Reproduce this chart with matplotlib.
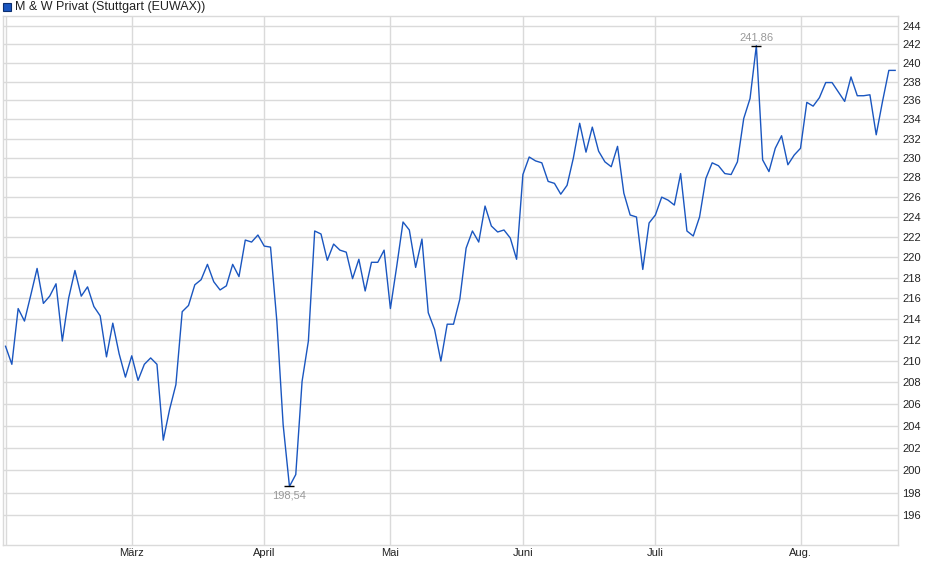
import matplotlib.pyplot as plt
from matplotlib.patches import Rectangle
from matplotlib.ticker import FixedLocator, NullLocator

# closing prices, one per trading day (Feb 3 - Aug 22)
prices = [
    211.4, 209.7, 215.0, 213.8, 216.3, 218.9, 215.5, 216.2, 217.4, 211.9,
    216.0, 218.7, 216.2, 217.1, 215.2, 214.3, 210.4, 213.6, 210.7, 208.5,
    210.5, 208.2, 209.7, 210.3, 209.7, 202.7, 205.5, 207.8, 214.7, 215.3,
    217.3, 217.8, 219.3, 217.6, 216.8, 217.2, 219.3, 218.1, 221.7, 221.5,
    222.2, 221.1, 221.0, 213.8, 204.1, 198.54, 199.6, 208.1, 211.9, 222.6,
    222.3, 219.7, 221.3, 220.7, 220.5, 217.9, 219.8, 216.7, 219.5, 219.5,
    220.7, 215.0, 219.1, 223.5, 222.7, 219.0, 221.8, 214.6, 213.0, 210.0,
    213.5, 213.5, 215.9, 220.9, 222.6, 221.5, 225.1, 223.1, 222.5, 222.7,
    221.9, 219.8, 228.3, 230.1, 229.7, 229.5, 227.6, 227.4, 226.3, 227.2,
    230.0, 233.6, 230.6, 233.2, 230.7, 229.6, 229.1, 231.2, 226.4, 224.2,
    224.0, 218.8, 223.4, 224.2, 226.0, 225.7, 225.2, 228.4, 222.6, 222.1,
    224.0, 227.9, 229.5, 229.2, 228.4, 228.3, 229.6, 234.1, 236.2, 241.86,
    229.8, 228.6, 231.0, 232.3, 229.3, 230.3, 231.0, 235.8, 235.4, 236.3,
    237.9, 237.9, 236.9, 235.9, 238.5, 236.5, 236.5, 236.6, 232.4, 235.9,
    239.2, 239.2,
]

# trading-day index of the first day of each month
month_pos = [0, 20, 41, 61, 82, 103, 126]
month_labels = ["", "März", "April", "Mai", "Juni", "Juli", "Aug."]
y_ticks = list(range(196, 246, 2))

title = "M & W Privat (Stuttgart (EUWAX))"
line_color = "#1a56c0"
grid_color = "#dadada"

plt.rcParams["font.family"] = ["Liberation Sans", "DejaVu Sans"]

W, H = 940, 579
fig = plt.figure(figsize=(W / 100, H / 100), dpi=100)
ax = fig.add_axes([2.7 / W, (H - 545) / H, (898.3 - 2.7) / W, (545 - 15.7) / H])

x = list(range(len(prices)))
ax.plot(x, prices, color=line_color, linewidth=1.0, zorder=3)

ax.set_yscale("log")
ax.set_ylim(193.4, 245.13)
ax.set_xlim(-0.45, 141.5)

ax.yaxis.set_major_locator(FixedLocator(y_ticks))
ax.yaxis.set_minor_locator(NullLocator())
ax.set_yticklabels([str(t) for t in y_ticks])
ax.yaxis.tick_right()
ax.set_xticks(month_pos)
ax.set_xticklabels(month_labels)
ax.tick_params(axis="both", length=0, labelsize=8, colors="#222222")
ax.tick_params(axis="y", pad=3)
ax.tick_params(axis="x", pad=2)

ax.grid(True, color=grid_color, linewidth=1.0, zorder=0)
for s in ax.spines.values():
    s.set_color(grid_color)
    s.set_linewidth(1.0)

# high / low markers
i_max = prices.index(max(prices))
i_min = prices.index(min(prices))
for i, off, va in [(i_max, 3, "bottom"), (i_min, -4, "top")]:
    ax.plot(i, prices[i], marker="_", color="black", markersize=7, mew=1.0, zorder=4)
    ax.annotate(f"{prices[i]:.2f}".replace(".", ","), xy=(i, prices[i]),
                xytext=(0, off), textcoords="offset pixels",
                ha="center", va=va, fontsize=8, color="#999999", zorder=5)

# legend entry at top left
fig.add_artist(Rectangle((3 / W, 1 - 11 / H), 8 / W, 8 / H, transform=fig.transFigure,
                         facecolor=line_color, edgecolor="#0d2f70", linewidth=0.8))
fig.text(15 / W, 1 - 7 / H, title, ha="left", va="center", fontsize=9, color="#222222")

fig.savefig("out.png", dpi=100)
